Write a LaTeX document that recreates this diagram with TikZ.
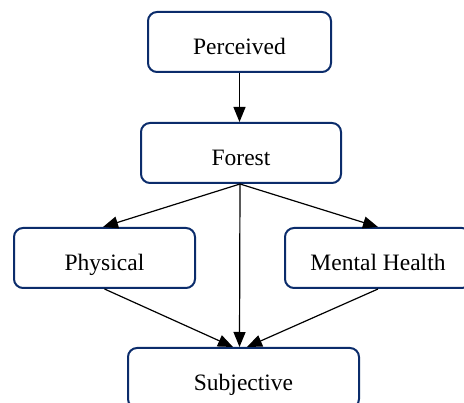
\documentclass[tikz,border=0pt]{standalone}
\usepackage{fontspec}
\setmainfont{Liberation Serif}
\usetikzlibrary{arrows.meta}
\definecolor{boxblue}{HTML}{0B2C6B}
\tikzset{
  box/.style={draw=boxblue, line width=2pt, rounded corners=9pt, fill=white,
    minimum height=60pt, inner sep=0pt, text height=30pt, text depth=4pt,
    font=\fontsize{23.5}{26}\selectfont},
  conn/.style={draw=black, line width=1.2pt, -{Triangle[length=15pt,width=12pt]}}
}
\begin{document}
\begin{tikzpicture}[x=1pt,y=-1pt]
\useasboundingbox (0,0) rectangle (464,403);
\node[box, minimum width=183pt] (perc) at (239.5,42) {Perceived};
\node[box, minimum width=200pt] (forest) at (241,153) {Forest};
\node[box, minimum width=181pt] (phys) at (104.5,258) {Physical};
\node[box, minimum width=186pt] (mental) at (378,258) {Mental Health};
\node[box, minimum width=231pt] (subj) at (243.5,378) {Subjective};
\draw[conn] (perc.south) -- ([xshift=-1.5pt]forest.north);
\draw[conn] ([xshift=-1pt]forest.south) -- ([xshift=-1.5pt]phys.north);
\draw[conn] ([xshift=-1pt]forest.south) -- (mental.north);
\draw[conn] ([xshift=-1pt]forest.south) -- ([xshift=-4pt]subj.north);
\draw[conn] (phys.south) -- ([xshift=-10.5pt]subj.north);
\draw[conn] (mental.south) -- ([xshift=3.5pt]subj.north);
\end{tikzpicture}
\end{document}
